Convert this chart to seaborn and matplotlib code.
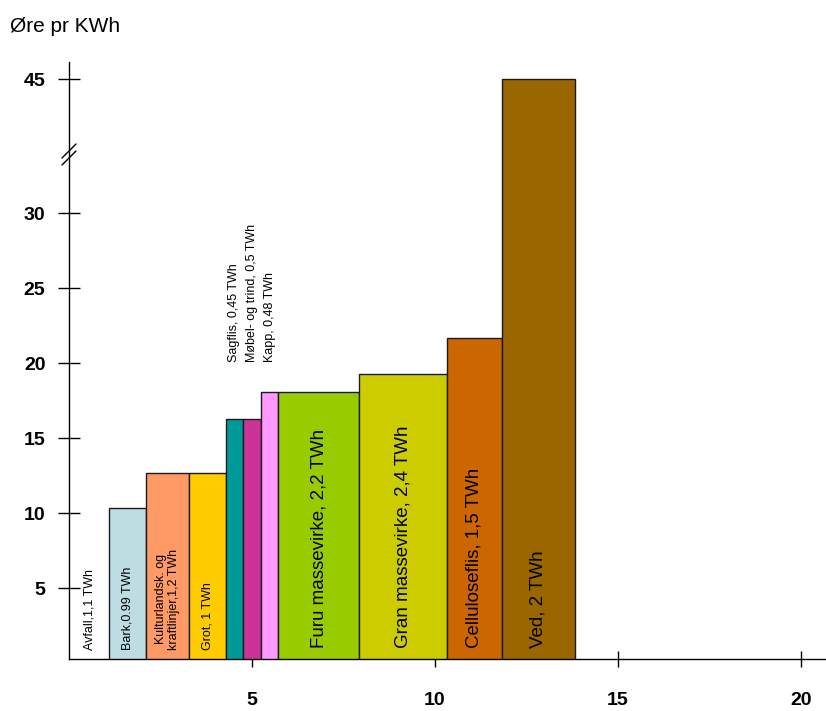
import numpy as np
import matplotlib
matplotlib.use("Agg")
import matplotlib.pyplot as plt
import seaborn as sns

# Supply curve for bioenergy: bar width = volume (TWh), bar height = cost (øre per kWh)
names = ["Avfall", "Bark", "Kulturlandsk", "Grot", "Sagflis", "Møbel", "Kapp",
         "Furu", "Gran", "Cellulose", "Ved"]
volume_twh = [1.1, 0.99, 1.2, 1.0, 0.45, 0.5, 0.48, 2.2, 2.4, 1.5, 2.0]
cost_ore = [0.0, 10.35, 12.7, 12.7, 16.3, 16.3, 18.05, 18.05, 19.25, 21.65, 45.0]
labels = ["Avfall,1,1 TWh", "Bark,0.99 TWh", "Kulturlandsk. og\nkraftlinjer,1,2 TWh",
          "Grot, 1 TWh", "Sagflis, 0,45 TWh", "Møbel- og trind, 0,5 TWh",
          "Kapp, 0,48 TWh", "Furu massevirke, 2,2 TWh", "Gran massevirke, 2,4 TWh",
          "Celluloseflis, 1,5 TWh", "Ved, 2 TWh"]
colors = ["#FFFFFF", "#BEDDE3", "#FF9966", "#FFCC00", "#009999", "#CC3399",
          "#FF99FF", "#99CC00", "#CCCC00", "#CC6600", "#996600"]
x_ticks = [5, 10, 15, 20]
y_ticks = [5, 10, 15, 20, 25, 30, 45]

sns.set_theme(style="white")
plt.rcParams["font.family"] = ["Liberation Sans", "DejaVu Sans"]
plt.rcParams["text.color"] = "black"
plt.rcParams["xtick.color"] = "black"
plt.rcParams["ytick.color"] = "black"

# Broken y axis: linear up to 30, compressed above
BREAK, SQUEEZE = 30.0, 0.597


def fwd(v):
    v = np.asarray(v, dtype=float)
    return np.where(v <= BREAK, v, BREAK + (v - BREAK) * SQUEEZE)


def inv(d):
    d = np.asarray(d, dtype=float)
    return np.where(d <= BREAK, d, BREAK + (d - BREAK) / SQUEEZE)


fig = plt.figure(figsize=(8.26, 7.11), dpi=100)
ax = fig.add_axes([69 / 826, 1 - 659 / 711, 1 - 69 / 826, (659 - 62) / 711])
ax.set_yscale("function", functions=(fwd, inv))

lefts = np.concatenate([[0], np.cumsum(volume_twh)[:-1]])
centers = lefts + np.array(volume_twh) / 2
for left, w, h, c in zip(lefts, volume_twh, cost_ore, colors):
    if h > 0:
        ax.bar(left, h, width=w, align="edge", color=c, edgecolor="#1a1a1a",
               linewidth=1.0, zorder=2)

# Labels written along the bars
small = {"Avfall", "Bark", "Kulturlandsk", "Grot"}
above = {"Sagflis", "Møbel", "Kapp"}
for name, cx, lab in zip(names, centers, labels):
    if name in small:
        ax.text(cx, 0.9, lab, rotation=90, ha="center", va="bottom",
                fontsize=9, color="black", zorder=3, linespacing=1.15)
    elif name in above:
        ax.text(cx, 20.05, lab, rotation=90, ha="center", va="bottom",
                fontsize=9, color="black", zorder=3)
    else:
        ax.text(cx, 1.0, lab, rotation=90, ha="center", va="bottom",
                fontsize=13.5, color="black", zorder=3)

ax.set_xlim(0, 20.68)
ax.set_ylim(0.27, 46.9)
ax.set_xticks(x_ticks)
ax.set_yticks(y_ticks)
ax.set_xticklabels([str(t) for t in x_ticks], fontsize=14, fontweight="bold",
                   color="black")
ax.set_yticklabels([str(t) for t in y_ticks], fontsize=14, fontweight="bold",
                   color="black")
ax.tick_params(axis="x", direction="inout", length=12, width=1, color="black",
               pad=18, bottom=True)
ax.tick_params(axis="y", direction="inout", length=16, width=1, color="black",
               pad=9, left=True)

for side in ("top", "right"):
    ax.spines[side].set_visible(False)
for side in ("left", "bottom"):
    ax.spines[side].set_color("black")
    ax.spines[side].set_linewidth(1.0)
ax.grid(False)

# Break marks on the y axis
h_px, w_px = 659 - 62, 826 - 69
for yc in (151, 158):
    yf = (659 - yc) / h_px
    ax.plot([-7 / w_px, 7 / w_px], [yf - 7 / h_px, yf + 7 / h_px],
            transform=ax.transAxes, color="black", lw=1.0, clip_on=False, zorder=5)

fig.text(10 / 826, 1 - 32 / 711, "Øre pr KWh", fontsize=15, ha="left",
         va="baseline", color="black")

fig.savefig("out.png", dpi=100, facecolor="white")
